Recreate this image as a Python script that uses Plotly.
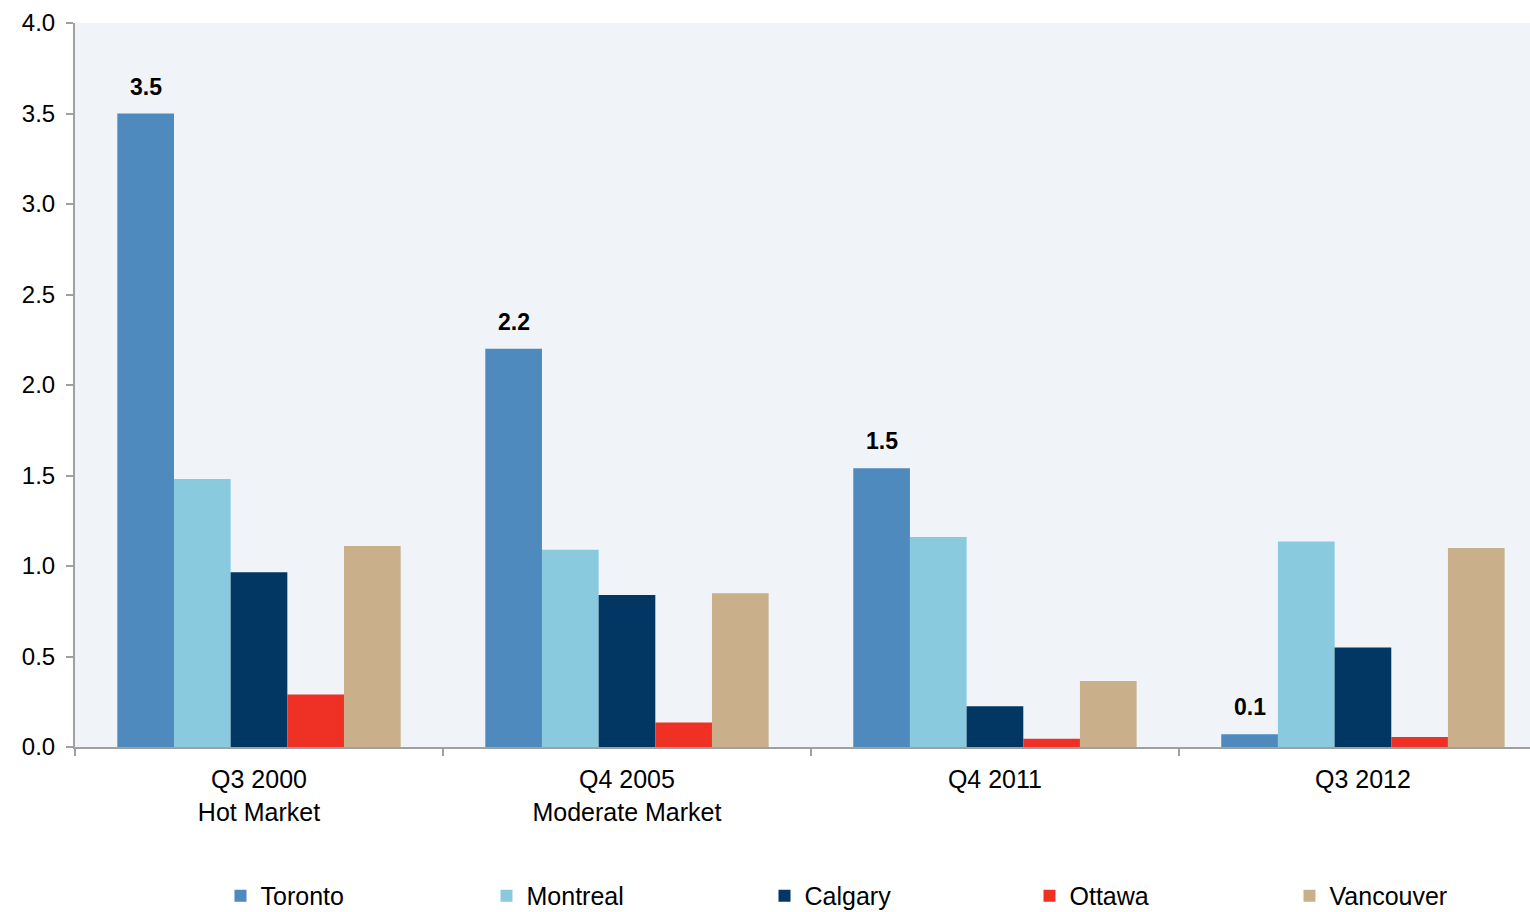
import plotly.graph_objects as go

categories = ["Q3 2000<br>Hot Market", "Q4 2005<br>Moderate Market", "Q4 2011", "Q3 2012"]
series_names = ["Toronto", "Montreal", "Calgary", "Ottawa", "Vancouver"]
toronto = [3.5, 2.2, 1.54, 0.07]
montreal = [1.48, 1.09, 1.16, 1.135]
calgary = [0.965, 0.84, 0.225, 0.55]
ottawa = [0.29, 0.135, 0.045, 0.055]
vancouver = [1.11, 0.85, 0.365, 1.10]
colors = ["#4F8ABF", "#89CADE", "#023764", "#EE3124", "#C9B08A"]
y_ticks = [0.0, 0.5, 1.0, 1.5, 2.0, 2.5, 3.0, 3.5, 4.0]

values = [toronto, montreal, calgary, ottawa, vancouver]

W, H = 1530, 912
ML, MR, MT, MB = 75, 0, 23, 165
BARGAP = 0.23
X_RANGE = [-0.5, 3.454]
FONT = "Liberation Sans"
LEGEND_WIDTHS = [221, 233, 220, 215, 125]

fig = go.Figure()
for name, vals, col, lw in zip(series_names, values, colors, LEGEND_WIDTHS):
    fig.add_trace(go.Bar(x=categories, y=vals, name=name, legendwidth=lw,
                         marker=dict(color=col, line=dict(width=0))))

# value labels over the Toronto bars
plot_w = W - ML - MR
cat_px = plot_w / (X_RANGE[1] - X_RANGE[0])
bar_px = cat_px * (1 - BARGAP) / len(series_names)
toronto_shift = -2 * bar_px
for cat, v in zip(categories, toronto):
    fig.add_annotation(x=cat, y=v, text=f"<b>{v:.1f}</b>", showarrow=False,
                       xshift=toronto_shift, yanchor="bottom", yshift=12,
                       font=dict(size=23, color="#000000", family=FONT))

fig.update_layout(
    width=W, height=H,
    barmode="group", bargap=BARGAP, bargroupgap=0,
    margin=dict(l=ML, r=MR, t=MT, b=MB, autoexpand=False),
    plot_bgcolor="#F0F4F8", paper_bgcolor="#FFFFFF",
    font=dict(family=FONT, size=22, color="#000000"),
    legend=dict(orientation="h", x=0.1, xanchor="left", y=-0.2058, yanchor="middle",
                entrywidthmode="pixels",
                font=dict(size=25, family=FONT), itemwidth=30),
    showlegend=True,
)
fig.update_xaxes(range=X_RANGE, showline=True, linecolor="#A0A0A0", linewidth=2,
                 ticks="outside", tickson="boundaries", ticklen=7, tickcolor="#A0A0A0", tickwidth=2,
                 ticklabelstandoff=9,
                 tickfont=dict(size=25, family=FONT), showgrid=False)
fig.update_yaxes(range=[0, 4.0], tickvals=y_ticks, ticktext=[f"{v:.1f}" for v in y_ticks],
                 showline=True, linecolor="#A0A0A0", linewidth=2,
                 ticks="outside", ticklen=7, tickcolor="#A0A0A0", tickwidth=2,
                 ticklabelstandoff=6,
                 tickfont=dict(size=24, family=FONT), showgrid=False, zeroline=False)

fig.write_html("out.html")
